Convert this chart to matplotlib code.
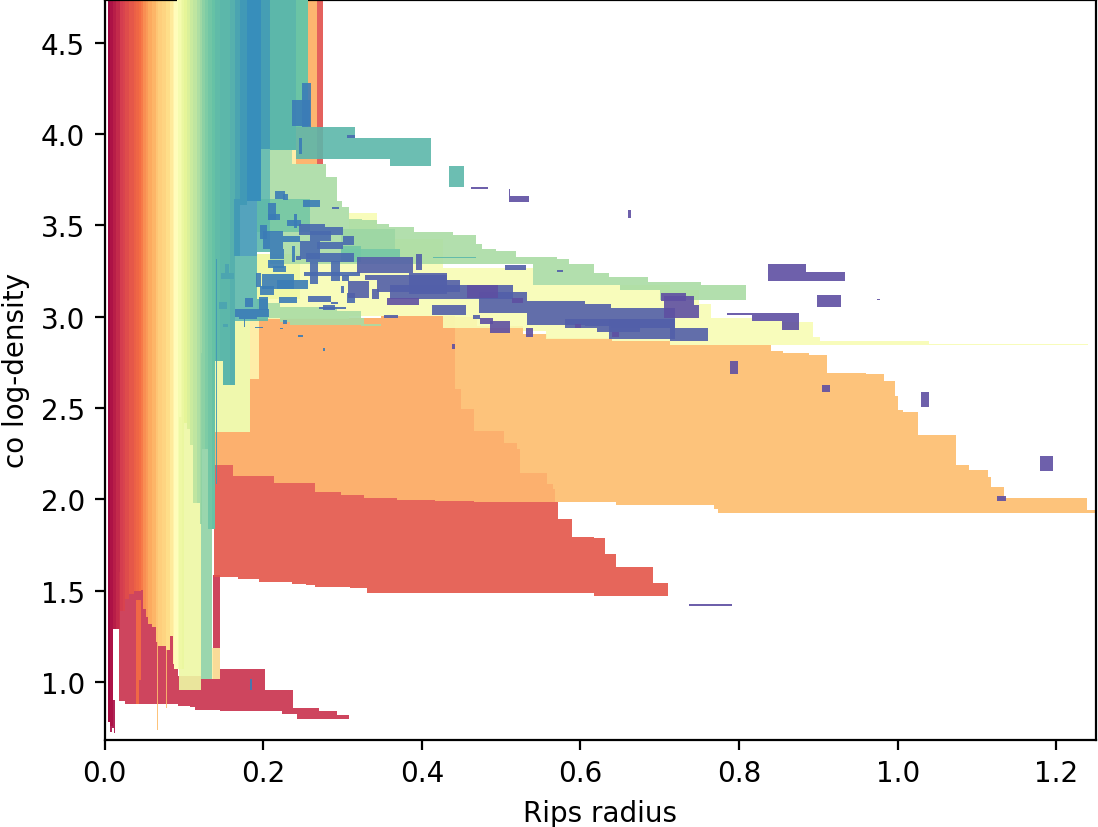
import numpy as np
import matplotlib
matplotlib.use('Agg')
import matplotlib.pyplot as plt

# vertical bands, one colour each, they all run up past the top of the plot
band_left   = [.004,.007,.011,.015,.019,.023,.026,.031,.037,.040,.043,.046,.049,.052,.055,.060,.065,.068,.072,.077,.083,.086,.088,.091,.093,.096,.098,.100,.104,.108,.112,.117,.120,.123,.127,.131,.135,.139,.146,.150,.158,.165,.171,.180,.197,.209,.241]
band_right  = [.007,.011,.015,.019,.023,.026,.031,.037,.040,.043,.046,.049,.052,.055,.060,.065,.068,.072,.077,.083,.086,.088,.091,.093,.096,.098,.100,.104,.108,.112,.117,.120,.123,.127,.131,.135,.139,.146,.150,.158,.165,.171,.180,.197,.209,.241,.257]
band_bottom = [.781,.76,1.29,1.29,1.389,1.389,1.455,1.48,1.5,1.5,1.5,1.504,1.40,1.356,1.318,1.30,1.22,1.197,1.197,1.175,1.252,1.10,1.071,1.071,1.071,1.071,1.071,2.42,2.385,2.30,1.98,1.98,1.865,2.276,2.276,1.838,1.838,2.758,2.758,2.626,2.626,3.333,3.612,3.634,3.919,3.913,4.039]
band_level  = [.01,.03,.05,.07,.10,.11,.13,.155,.175,.185,.2,.22,.25,.27,.295,.315,.345,.365,.375,.395,.43,.46,.49,.51,.54,.56,.58,.60,.62,.645,.665,.695,.715,.745,.765,.785,.80,.81,.82,.82,.83,.85,.87,.89,.86,.82,.79]
y_top = 4.8

# boxes are (x0, x1, y0, y1)
crimson = [(.018,.026,.896,1.6),(.026,.093,.880,1.6),(.093,.108,.869,1.033),(.108,.114,.863,1.033),
           (.114,.122,.847,1.033),(.122,.137,.847,1.016),(.137,.146,.847,1.586),(.146,.202,.841,1.071),
           (.202,.224,.841,.956),(.224,.238,.825,.956),(.238,.243,.825,.858),(.243,.270,.797,.858),
           (.270,.293,.797,.841),(.293,.308,.797,.819)]
deep_bits = [(.004,.007,.78,.9),(.007,.009,.726,.9),(.009,.0115,.75,.9),(.0115,.0135,.72,.9)]
red = [(.138,.162,1.575,2.188),(.162,.168,1.575,2.128),(.168,.195,1.564,2.128),(.195,.214,1.548,2.128),
       (.214,.236,1.548,2.090),(.236,.254,1.537,2.090),(.254,.265,1.531,2.090),(.265,.298,1.520,2.040),
       (.298,.309,1.520,2.024),(.309,.327,1.515,2.024),(.327,.331,1.515,2.008),(.331,.369,1.487,2.008),
       (.369,.417,1.487,1.997),(.417,.466,1.487,1.991),(.466,.572,1.487,1.986),(.572,.590,1.487,1.893),
       (.590,.617,1.487,1.794),(.617,.631,1.471,1.789),(.631,.645,1.471,1.701),(.645,.691,1.471,1.630),
       (.691,.711,1.471,1.542)]
red_top = [(.268,.276,3.837,4.8)]
orange_dark = [(.138,.162,2.188,2.369),(.162,.183,2.128,2.369),(.183,.195,2.128,2.659),(.195,.214,2.128,2.993),
               (.214,.265,2.090,2.993),(.265,.298,2.040,2.993),(.298,.327,2.024,2.993),(.327,.348,2.008,2.993),
               (.348,.369,2.008,3.004),(.369,.417,1.997,3.004),(.417,.442,1.991,3.004),(.442,.449,1.991,2.604),
               (.449,.466,1.991,2.495),(.466,.504,1.986,2.374),(.504,.520,1.986,2.309),(.520,.524,1.986,2.276),
               (.524,.558,1.986,2.144),(.558,.565,1.986,2.084),(.565,.568,1.986,2.057)]
orange_top = [(.241,.268,3.837,4.8)]
orange_light = [(.442,.449,2.604,3.0),(.449,.466,2.495,3.0),(.466,.470,2.374,3.0),(.470,.504,2.374,2.949),
                (.504,.520,2.309,2.949),(.520,.524,2.276,2.949),(.524,.528,2.144,2.949),(.528,.558,2.144,2.906),
                (.558,.565,2.084,2.884),(.565,.568,2.057,2.884),(.568,.640,1.986,2.884),(.640,.645,1.986,2.867),
                (.645,.713,1.969,2.867),(.713,.768,1.969,2.845),(.768,.773,1.947,2.845),(.773,.840,1.925,2.845),
                (.840,.855,1.925,2.813),(.855,.888,1.925,2.802),(.888,.911,1.925,2.791),(.911,.960,1.925,2.692),
                (.960,.983,1.925,2.687),(.983,.996,1.925,2.648),(.996,1.001,1.925,2.566),(1.001,1.007,1.925,2.489),
                (1.007,1.026,1.925,2.478),(1.026,1.074,1.925,2.353),(1.074,1.090,1.925,2.188),(1.090,1.114,1.925,2.161),
                (1.114,1.117,1.925,2.123),(1.117,1.134,1.925,2.068),(1.134,1.239,1.925,2.008),(1.239,1.255,1.925,1.942)]
amber = [(.183,.195,2.659,2.988),(.136,.145,1.016,1.186),(.236,.241,3.837,3.913)]
thin_orange = [(.0665,.0675,.737,1.235),(.078,.079,.858,1.18)]
orange_red = [(.040,.044,.88,1.45),(.044,.046,1.011,1.45)]
yellow = [(.192,.308,2.988,3.344),(.308,.344,3.004,3.568),(.344,.427,3.004,3.426),(.427,.519,2.938,3.267),
          (.519,.528,2.938,3.267),(.528,.540,2.922,3.267),(.540,.557,2.922,3.174),(.557,.640,2.878,3.174),
          (.640,.713,2.867,3.174),(.713,.750,2.845,3.147),(.750,.765,2.845,3.070),(.765,.816,2.845,2.993),
          (.816,.854,2.845,2.977),(.854,.893,2.845,2.971),(.893,.902,2.845,2.889),(.902,1.039,2.845,2.867),
          (1.039,1.240,2.845,2.851)]
yellow_green = [(.094,.122,.956,2.45),(.139,.183,2.369,2.977),(.192,.247,3.097,3.344)]
green = [(.209,.236,3.289,3.919),(.236,.279,3.289,3.837),(.279,.293,3.289,3.765),(.293,.300,3.289,3.634),
         (.300,.308,3.289,3.601),(.308,.325,3.289,3.535),(.325,.344,3.289,3.530),(.344,.359,3.289,3.508),
         (.359,.390,3.289,3.492),(.390,.439,3.289,3.464),(.439,.468,3.289,3.448),(.468,.476,3.289,3.398),
         (.476,.494,3.289,3.371),(.494,.519,3.289,3.360),(.519,.540,3.289,3.327),(.540,.570,3.174,3.327),
         (.570,.586,3.174,3.316),(.586,.617,3.174,3.289),(.617,.636,3.174,3.240),(.636,.650,3.174,3.218),
         (.650,.685,3.147,3.218),(.685,.700,3.147,3.190),(.700,.752,3.092,3.190),(.752,.809,3.092,3.174),
         (.206,.221,2.993,3.075),(.221,.234,2.971,3.053),(.234,.293,2.955,3.053),(.293,.323,2.955,3.032),
         (.323,.327,2.949,2.993),(.327,.348,2.949,2.960)]
green_over = [(.298,.366,3.37,3.48)]
mint = [(.122,.136,1.016,2.8)]
teal_soft = [(.192,.259,3.464,3.645),(.298,.373,3.327,3.371),(.298,.323,3.30,3.39)]
teal = [(.241,.316,3.864,4.039),(.316,.360,3.864,3.979),(.360,.412,3.826,3.979),(.434,.453,3.71,3.826),
        (.165,.206,2.977,3.097),(.414,.468,3.32,3.327)]
teal_deep = [(.192,.209,3.355,3.919),(.165,.192,3.097,3.333)]
blue_soft = [(.147,.163,3.207,3.240),(.152,.157,3.24,3.289),(.144,.154,3.043,3.081),(.149,.156,2.944,2.960)]
blue_line = [(.140,.142,2.084,3.316),(.163,.192,3.333,3.645)]
blue = [(.236,.259,4.045,4.187),(.249,.260,4.039,4.280),(.245,.249,3.891,3.979),(.215,.228,3.645,3.689),
        (.225,.231,3.639,3.672),(.250,.272,3.601,3.639),(.206,.216,3.530,3.623),(.206,.221,3.530,3.563),
        (.230,.248,3.497,3.530),(.239,.243,3.486,3.563),(.196,.205,3.426,3.503),(.200,.225,3.371,3.470),
        (.209,.226,3.316,3.371),(.225,.246,3.409,3.442),(.236,.240,3.300,3.387),(.206,.226,3.267,3.311),
        (.212,.229,3.245,3.278),(.198,.239,3.152,3.234),(.191,.197,3.163,3.240),(.196,.214,3.119,3.168),
        (.177,.187,3.053,3.103),(.195,.206,3.037,3.108),(.165,.207,2.999,3.043),(.170,.192,2.988,2.999),
        (.176,.177,2.944,2.988),(.190,.200,2.938,2.944),(.225,.230,2.960,2.982),(.221,.225,2.933,2.938),
        (.244,.250,2.889,2.900),(.275,.278,2.813,2.829),(.220,.243,3.075,3.108),(.218,.256,3.152,3.201),
        (.183,.186,.956,1.016)]
blue_mid = [(.245,.278,3.448,3.508),(.278,.301,3.448,3.492),(.259,.285,3.415,3.470),(.247,.272,3.316,3.415),
            (.254,.314,3.300,3.349),(.268,.301,3.371,3.409),(.301,.314,3.393,3.442),(.241,.248,3.311,3.333),
            (.259,.269,3.179,3.300),(.285,.297,3.196,3.305),(.251,.322,3.223,3.245),(.300,.308,3.196,3.229),
            (.298,.302,3.130,3.168),(.257,.285,3.081,3.114),(.306,.316,3.075,3.130),(.271,.305,3.043,3.053),
            (.276,.290,3.037,3.064),(.285,.295,3.070,3.081),(.306,.316,3.979,3.995),(.287,.296,3.590,3.601)]
indigo = [(.318,.389,3.240,3.327),(.328,.432,3.201,3.229),(.343,.448,3.136,3.201),(.360,.515,3.097,3.174),
          (.307,.333,3.103,3.196),(.337,.346,3.097,3.152),(.413,.456,3.010,3.064),(.472,.533,3.021,3.136),
          (.384,.432,3.125,3.240),(.464,.474,2.988,3.010),(.353,.370,2.993,3.010),(.505,.531,3.256,3.283),
          (.393,.400,3.256,3.344),(.570,.578,3.245,3.256),(.533,.606,2.955,3.086),(.606,.639,2.949,3.070),
          (.639,.719,2.938,3.048),(.581,.621,2.938,2.988),(.621,.675,2.917,2.988),(.636,.719,2.878,2.988),
          (.713,.761,2.867,2.938)]
purple = [(.356,.396,3.064,3.103),(.457,.496,3.103,3.174),(.486,.511,2.911,2.977),(.474,.490,2.960,2.993),
          (.514,.528,3.075,3.103),(.510,.535,3.628,3.661),(.660,.664,3.541,3.585),(.531,.540,2.889,2.938),
          (.593,.601,2.938,2.960),(.640,.649,2.889,2.917),(.438,.442,2.824,2.851),(.837,.885,3.196,3.289),
          (.885,.933,3.196,3.245),(.898,.929,3.053,3.119),(.974,.978,3.092,3.097),(.785,.876,3.010,3.021),
          (.816,.876,2.977,3.010),(.854,.876,2.928,2.977),(.702,.733,3.086,3.130),(.706,.743,3.064,3.114),
          (.706,.750,2.993,3.064),(.789,.799,2.687,2.758),(.904,.915,2.588,2.626),(1.030,1.040,2.506,2.588),
          (1.179,1.196,2.155,2.238),(1.125,1.136,1.991,2.019),(.737,.791,1.416,1.427),(.462,.483,3.700,3.711),
          (.510,.511,3.661,3.70)]

groups = [(.02,deep_bits),(.08,crimson),(.14,red_top),(.15,red),(.2,orange_red),(.29,orange_dark),(.3,orange_top),
          (.33,orange_light),(.33,thin_orange),(.44,amber),(.53,yellow),(.57,yellow_green),(.7,green),(.72,green_over),
          (.74,mint),(.78,teal_soft),(.82,teal),(.82,teal_deep),(.85,blue_soft),(.87,blue_line),(.92,blue),(.95,blue_mid),
          (.97,indigo),(1.0,purple)]

cmap = plt.get_cmap('Spectral')

fig = plt.figure(figsize=(1098/200,828/200),dpi=200)
ax = fig.add_axes([104.5/1098,1-741/828,(1096-104.5)/1098,740/828])

for l,r,b,c in zip(band_left,band_right,band_bottom,band_level):
    ax.bar(l,y_top-b,width=r-l,bottom=b,align='edge',color=cmap(c),linewidth=0,zorder=2+c,antialiased=False)

for level,boxes in groups:
    for x0,x1,y0,y1 in boxes:
        ax.bar(x0,y1-y0,width=x1-x0,bottom=y0,align='edge',color=cmap(level),alpha=0.9,
               linewidth=0,zorder=2+level,antialiased=False)

ax.set_xlim(0,1.25)
ax.set_ylim(0.682,4.735)
ax.set_xticks([0,0.2,0.4,0.6,0.8,1.0,1.2])
ax.set_yticks([1,1.5,2,2.5,3,3.5,4,4.5])
ax.set_xlabel('Rips radius')
ax.set_ylabel('co log-density')
plt.savefig('out.png',dpi=200)
